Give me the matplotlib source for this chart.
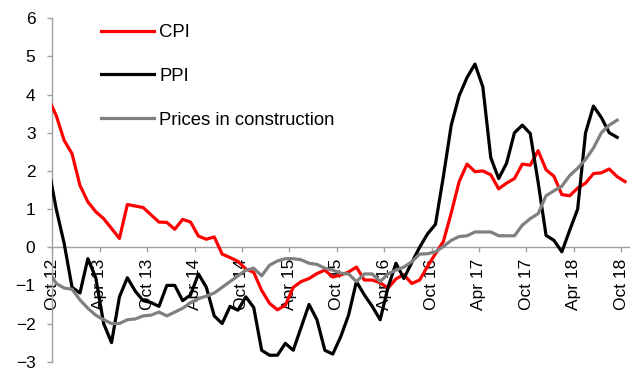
import numpy as np
import matplotlib
matplotlib.use("Agg")
import matplotlib.pyplot as plt

# Year-on-year change, %, monthly. Each series starts with Sep 2012
# (clipped by the axis at Oct 2012); values sit mid-month.
cpi = [3.9,
       3.45, 2.8, 2.45, 1.62, 1.19, 0.93, 0.75, 0.49, 0.23, 1.12, 1.08, 1.04,
       0.85, 0.66, 0.65, 0.47, 0.73, 0.66, 0.29, 0.21, 0.27, -0.18, -0.27, -0.37,
       -0.57, -0.66, -1.13, -1.47, -1.64, -1.52, -1.05, -0.9, -0.82, -0.69, -0.6, -0.78,
       -0.73, -0.65, -0.52, -0.86, -0.86, -0.93, -1.07, -0.83, -0.72, -0.95, -0.86, -0.5,
       -0.17, 0.15, 0.9, 1.72, 2.18, 1.98, 2.0, 1.9, 1.53, 1.68, 1.8, 2.18,
       2.15, 2.53, 2.03, 1.86, 1.38, 1.35, 1.55, 1.68, 1.93, 1.95, 2.05, 1.85,
       1.72]

ppi = [2.1,
       1.0, 0.1, -1.05, -1.2, -0.3, -0.8, -2.0, -2.5, -1.3, -0.8, -1.15, -1.4,
       -1.45, -1.55, -1.0, -1.0, -1.4, -1.25, -0.7, -1.05, -1.8, -2.0, -1.55, -1.65,
       -1.3, -1.58, -2.7, -2.83, -2.83, -2.52, -2.7, -2.1, -1.5, -1.9, -2.7, -2.8,
       -2.35, -1.78, -0.9, -1.25, -1.55, -1.9, -1.05, -0.42, -0.82, -0.4, 0.0, 0.35,
       0.6, 1.85, 3.2, 3.97, 4.45, 4.8, 4.2, 2.35, 1.8, 2.2, 3.0, 3.2,
       2.98, 1.7, 0.31, 0.18, -0.12, 0.45, 1.0, 3.0, 3.7, 3.4, 3.0, 2.88]

construction = [-0.62,
                -0.95, -1.07, -1.1, -1.38, -1.6, -1.78, -1.9, -2.0, -2.0, -1.9, -1.88, -1.8,
                -1.78, -1.7, -1.8, -1.7, -1.6, -1.45, -1.35, -1.28, -1.2, -1.05, -0.9, -0.75,
                -0.6, -0.55, -0.75, -0.47, -0.36, -0.3, -0.3, -0.33, -0.42, -0.45, -0.55, -0.6,
                -0.68, -0.7, -0.9, -0.7, -0.7, -0.9, -0.7, -0.6, -0.52, -0.38, -0.18, -0.17,
                -0.12, 0.02, 0.18, 0.28, 0.3, 0.4, 0.4, 0.4, 0.3, 0.3, 0.3, 0.58,
                0.75, 0.88, 1.35, 1.48, 1.6, 1.88, 2.07, 2.3, 2.6, 3.0, 3.2, 3.33]

tick_labels = ["Oct 12", "Apr 13", "Oct 13", "Apr 14", "Oct 14", "Apr 15", "Oct 15",
               "Apr 16", "Oct 16", "Apr 17", "Oct 17", "Apr 18", "Oct 18"]
y_ticks = [-3, -2, -1, 0, 1, 2, 3, 4, 5, 6]

plt.rcParams['font.family'] = ['Liberation Sans', 'DejaVu Sans']

W, H = 638, 370
fig = plt.figure(figsize=(W / 100, H / 100), dpi=100)
ax = fig.add_axes([52.3 / W, 1 - 361.7 / H, (629 - 52.3) / W, (361.7 - 18.3) / H])


def months(series):
    # months since Oct 2012, centred in each month
    return np.arange(len(series)) - 0.5


lw = 2.3
ax.plot(months(cpi), cpi, color='#FF0000', lw=lw, label='CPI')
ax.plot(months(ppi), ppi, color='#000000', lw=lw, label='PPI')
ax.plot(months(construction), construction, color='#808080', lw=lw,
        label='Prices in construction')

ax.set_xlim(0, 73)
ax.set_ylim(-3, 6)
ax.set_yticks(y_ticks)
ax.set_xticks(np.arange(len(tick_labels)) * 6)
ax.set_xticklabels(tick_labels)

axis_grey = '#A0A0A0'
for side in ('top', 'right'):
    ax.spines[side].set_visible(False)
ax.spines['bottom'].set_position(('data', 0))
for side in ('left', 'bottom'):
    ax.spines[side].set_color(axis_grey)
    ax.spines[side].set_linewidth(1.0)
    ax.spines[side].set_zorder(1)
ax.set_axisbelow(True)

ax.tick_params(axis='y', direction='out', length=3.6, width=1.0, color=axis_grey,
               pad=8.5, labelsize=12.5, labelcolor='black')
ax.tick_params(axis='x', direction='out', length=3.6, width=1.0, color=axis_grey,
               pad=4.5, labelsize=12.5, labelcolor='black', labelrotation=90)

ax.legend(loc='upper left', bbox_to_anchor=(101 / W, 1 - 24 / H),
          bbox_transform=fig.transFigure, frameon=False, fontsize=13.3,
          handlelength=2.85, handletextpad=0.3, labelspacing=1.45,
          borderpad=0, borderaxespad=0)

fig.savefig('out.png', dpi=100)
